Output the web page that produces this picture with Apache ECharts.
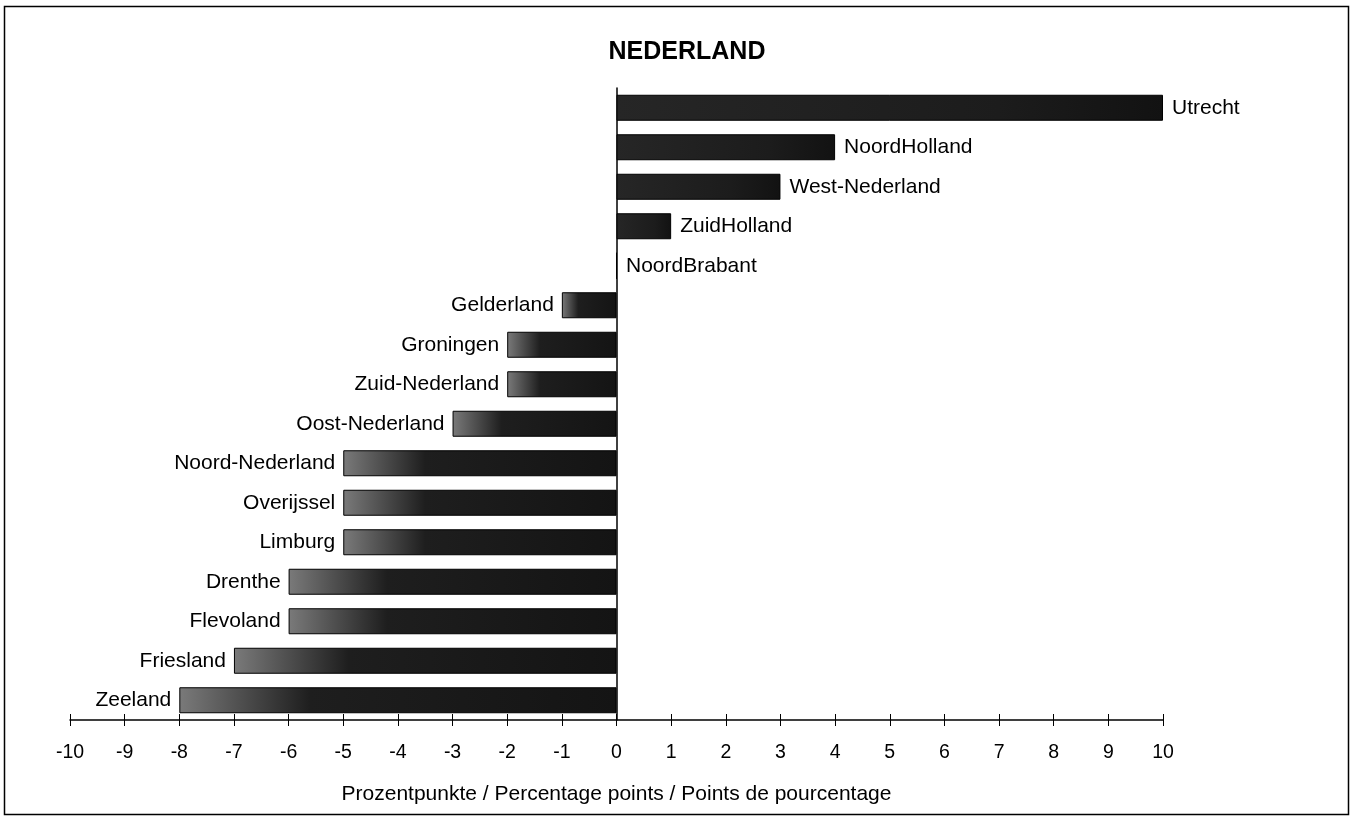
<!DOCTYPE html>
<html><head><meta charset="utf-8">
<script src="https://cdn.jsdelivr.net/npm/echarts@6/dist/echarts.min.js"></script>
<style>html,body{margin:0;padding:0;background:#fff}#c{width:1354px;height:828px}</style>
</head><body><div id="c"></div>
<script>
const regions = ['Utrecht','NoordHolland','West-Nederland','ZuidHolland','NoordBrabant','Gelderland','Groningen','Zuid-Nederland','Oost-Nederland','Noord-Nederland','Overijssel','Limburg','Drenthe','Flevoland','Friesland','Zeeland'];
const values = [10,4,3,1,0,-1,-2,-2,-3,-5,-5,-5,-6,-6,-7,-8];
const xTicks = [-10,-9,-8,-7,-6,-5,-4,-3,-2,-1,0,1,2,3,4,5,6,7,8,9,10];

const FONT = '"Liberation Sans", Arial, sans-serif';
const chart = echarts.init(document.getElementById('c'));

function barColor(v){
  if (v < 0) {
    return new echarts.graphic.LinearGradient(0,0,1,0,[
      {offset:0,color:'#7a7a7a'},{offset:0.12,color:'#555'},{offset:0.3,color:'#1e1e1e'},{offset:1,color:'#141414'}]);
  }
  return new echarts.graphic.LinearGradient(0,0,1,0,[
    {offset:0,color:'#262626'},{offset:0.7,color:'#1c1c1c'},{offset:1,color:'#121212'}]);
}

const data = values.map((v,i)=>({
  value: v,
  itemStyle: {color: barColor(v)},
  label: {show:true, position: v < 0 ? 'left' : 'right', distance: v < 0 ? 8 : 9, formatter: regions[i]}
}));

chart.setOption({
  animation:false,
  title:{text:'NEDERLAND', left:682, top:35, textAlign:'center',
    textStyle:{fontFamily:FONT, fontSize:25, fontWeight:'bold', color:'#000'}},
  grid:{left:70, right:191, top:88, bottom:108},
  xAxis:[{
    type:'value', min:-10, max:10, interval:1, position:'bottom',
    axisLine:{show:true, onZero:false, lineStyle:{color:'#000', width:1.5}},
    axisTick:{show:true, length:6, lineStyle:{color:'#000'}},
    axisLabel:{fontFamily:FONT, fontSize:19.5, color:'#000', margin:23,
      formatter: v => xTicks.includes(v) ? String(v) : ''},
    splitLine:{show:false},
    name:'Prozentpunkte / Percentage points / Points de pourcentage',
    nameLocation:'middle', nameGap:64,
    nameTextStyle:{fontFamily:FONT, fontSize:21, color:'#000'}
  },{
    type:'value', min:-10, max:10, interval:1, position:'bottom',
    axisLine:{show:false},
    axisTick:{show:true, inside:true, length:6, lineStyle:{color:'#000'}},
    axisLabel:{show:false}, splitLine:{show:false}
  }],
  yAxis:{
    type:'category', data:regions, inverse:true,
    axisLine:{show:true, onZero:true, lineStyle:{color:'#000', width:1.5}},
    axisTick:{show:false}, axisLabel:{show:false}
  },
  series:[{
    type:'bar', data:data, barWidth:26,
    itemStyle:{borderColor:'#000', borderWidth:1},
    label:{fontFamily:FONT, fontSize:21, color:'#000'}
  }],
  graphic:[{
    type:'rect', shape:{x:4.5, y:6.5, width:1344, height:808},
    style:{fill:null, stroke:'#000', lineWidth:1.5}, silent:true
  }]
});
</script></body></html>
